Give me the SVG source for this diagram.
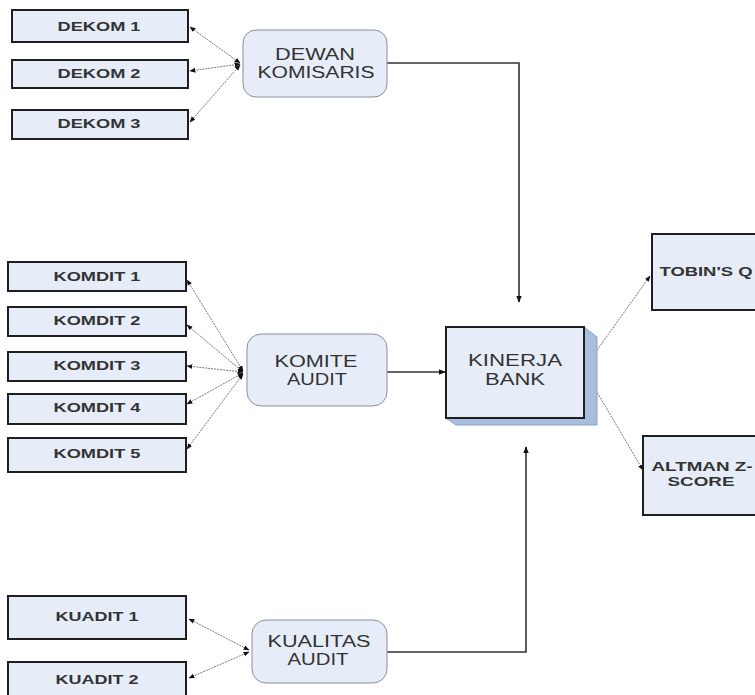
<svg xmlns="http://www.w3.org/2000/svg" width="755" height="695" viewBox="0 0 755 695">
<defs>
<marker id="ah" viewBox="0 0 10 10" refX="9" refY="5" markerWidth="7" markerHeight="7" orient="auto-start-reverse" markerUnits="userSpaceOnUse"><path d="M0,1 L10,5 L0,9 z" fill="#111"/></marker>
<marker id="ahs" viewBox="0 0 10 10" refX="9" refY="5" markerWidth="6" markerHeight="6" orient="auto-start-reverse" markerUnits="userSpaceOnUse"><path d="M0,1 L10,5 L0,9 z" fill="#111"/></marker>
</defs>
<style>
.box{fill:#e6edf8;stroke:#1e1e1e;stroke-width:2}
.rnd{fill:#e6edf8;stroke:#8a8f99;stroke-width:1}
.st{font-family:"Liberation Sans",Arial,sans-serif;font-size:12.5px;font-weight:bold;fill:#333;text-anchor:middle}
.nt{font-family:"Liberation Sans",Arial,sans-serif;font-size:16px;fill:#333;text-anchor:middle}
.thin{stroke:#777;stroke-width:1;fill:none;stroke-dasharray:2 1}
.main{stroke:#333;stroke-width:1.6;fill:none}
</style>
<rect width="755" height="695" fill="#fff"/>
<g id="connectors">
<path class="thin" d="M240,63 L190,27" marker-start="url(#ahs)" marker-end="url(#ahs)"/>
<path class="thin" d="M240,64 L190,71" marker-start="url(#ahs)" marker-end="url(#ahs)"/>
<path class="thin" d="M240,65 L190,122" marker-start="url(#ahs)" marker-end="url(#ahs)"/>
<path class="thin" d="M243,371 L187,280" marker-start="url(#ahs)" marker-end="url(#ahs)"/>
<path class="thin" d="M243,372 L187,325" marker-start="url(#ahs)" marker-end="url(#ahs)"/>
<path class="thin" d="M243,372 L187,366" marker-start="url(#ahs)" marker-end="url(#ahs)"/>
<path class="thin" d="M243,373 L187,404" marker-start="url(#ahs)" marker-end="url(#ahs)"/>
<path class="thin" d="M243,374 L187,449" marker-start="url(#ahs)" marker-end="url(#ahs)"/>
<path class="thin" d="M249,650 L189,619" marker-start="url(#ahs)" marker-end="url(#ahs)"/>
<path class="thin" d="M249,652 L189,678" marker-start="url(#ahs)" marker-end="url(#ahs)"/>
<path class="main" d="M387,63 L519,63 L519,302" marker-end="url(#ah)"/>
<path class="main" d="M387,372 L445,372" marker-end="url(#ah)"/>
<path class="main" d="M387,652 L526,652 L526,447" marker-end="url(#ah)"/>
<path class="thin" d="M585,367 L650,276" marker-end="url(#ahs)"/>
<path class="thin" d="M585,372 L643,470" marker-end="url(#ahs)"/>
</g>
<g id="dekom1"><rect class="box" x="12" y="10" width="176" height="32"/><text class="st" x="99" y="31" textLength="83" lengthAdjust="spacingAndGlyphs">DEKOM 1</text></g>
<g id="dekom2"><rect class="box" x="12" y="60" width="176" height="28"/><text class="st" x="99" y="78" textLength="83" lengthAdjust="spacingAndGlyphs">DEKOM 2</text></g>
<g id="dekom3"><rect class="box" x="12" y="110" width="176" height="29"/><text class="st" x="99" y="128" textLength="83" lengthAdjust="spacingAndGlyphs">DEKOM 3</text></g>
<g id="dewan"><rect class="rnd" x="243" y="30" width="144" height="67" rx="13"/><text class="nt" x="315" y="60" textLength="80" lengthAdjust="spacingAndGlyphs">DEWAN</text><text class="nt" x="316" y="78" textLength="117" lengthAdjust="spacingAndGlyphs">KOMISARIS</text></g>
<g id="komdit1"><rect class="box" x="8" y="262" width="178" height="29"/><text class="st" x="97" y="281" textLength="87" lengthAdjust="spacingAndGlyphs">KOMDIT 1</text></g>
<g id="komdit2"><rect class="box" x="8" y="307" width="178" height="29"/><text class="st" x="97" y="325" textLength="87" lengthAdjust="spacingAndGlyphs">KOMDIT 2</text></g>
<g id="komdit3"><rect class="box" x="8" y="352" width="178" height="29"/><text class="st" x="97" y="370" textLength="87" lengthAdjust="spacingAndGlyphs">KOMDIT 3</text></g>
<g id="komdit4"><rect class="box" x="8" y="394" width="178" height="30"/><text class="st" x="97" y="412" textLength="87" lengthAdjust="spacingAndGlyphs">KOMDIT 4</text></g>
<g id="komdit5"><rect class="box" x="8" y="438" width="178" height="34"/><text class="st" x="97" y="458" textLength="87" lengthAdjust="spacingAndGlyphs">KOMDIT 5</text></g>
<g id="komite"><rect class="rnd" x="247" y="334" width="140" height="72" rx="14"/><text class="nt" x="316" y="367" textLength="83" lengthAdjust="spacingAndGlyphs">KOMITE</text><text class="nt" x="317" y="385" textLength="60" lengthAdjust="spacingAndGlyphs">AUDIT</text></g>
<g id="kinerja"><polygon points="584,327 597,337 597,425 456,425 446,418 584,418" fill="#a8bedf" stroke="#8aa2c8" stroke-width="1"/><rect class="box" x="446" y="327" width="138" height="91"/><text class="nt" x="515" y="366" textLength="94" lengthAdjust="spacingAndGlyphs">KINERJA</text><text class="nt" x="515" y="385" textLength="60" lengthAdjust="spacingAndGlyphs">BANK</text></g>
<g id="tobin"><rect class="box" x="652" y="234" width="120" height="76"/><text class="st" x="706" y="276" textLength="93" lengthAdjust="spacingAndGlyphs">TOBIN'S Q</text></g>
<g id="altman"><rect class="box" x="643" y="436" width="130" height="79"/><text class="st" x="702" y="471" textLength="101" lengthAdjust="spacingAndGlyphs">ALTMAN Z-</text><text class="st" x="701" y="486" textLength="67" lengthAdjust="spacingAndGlyphs">SCORE</text></g>
<g id="kuadit1"><rect class="box" x="8" y="596" width="178" height="43"/><text class="st" x="97" y="621" textLength="83" lengthAdjust="spacingAndGlyphs">KUADIT 1</text></g>
<g id="kuadit2"><rect class="box" x="8" y="662" width="178" height="45"/><text class="st" x="97" y="684" textLength="83" lengthAdjust="spacingAndGlyphs">KUADIT 2</text></g>
<g id="kualitas"><rect class="rnd" x="252" y="620" width="135" height="63" rx="14"/><text class="nt" x="319" y="647" textLength="103" lengthAdjust="spacingAndGlyphs">KUALITAS</text><text class="nt" x="318" y="665" textLength="61" lengthAdjust="spacingAndGlyphs">AUDIT</text></g>
</svg>
